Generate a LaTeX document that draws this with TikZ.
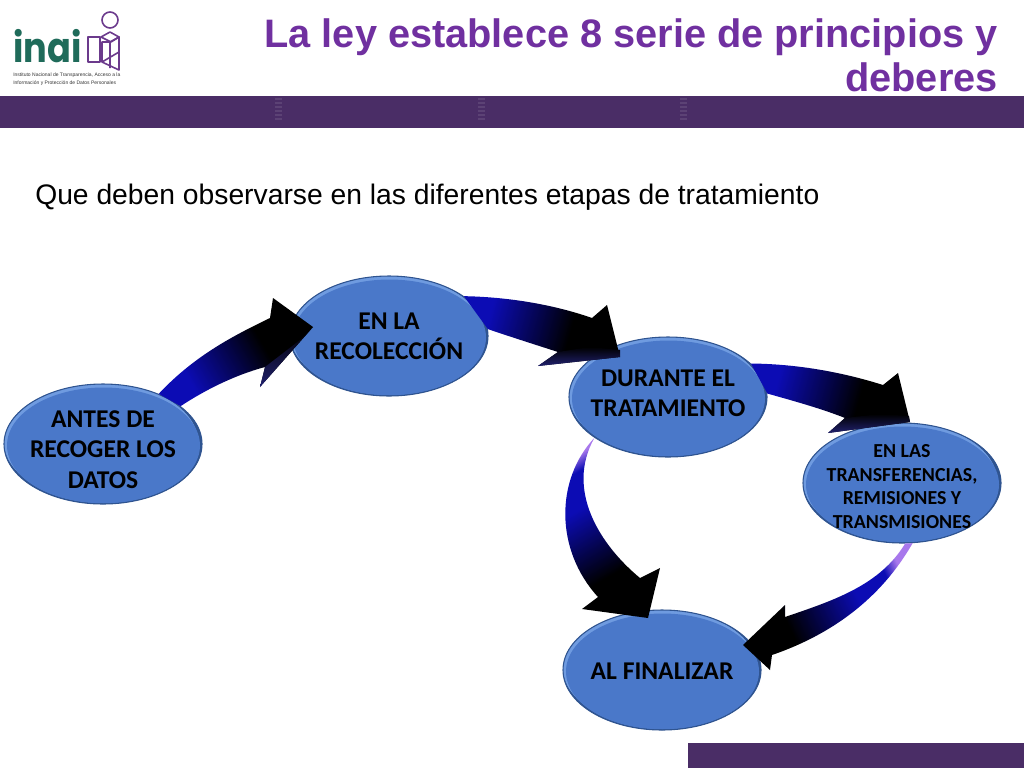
\documentclass[tikz,border=0pt]{standalone}
\usepackage{graphicx}
\usepackage{fontspec}
\setmainfont{Liberation Sans}
\newfontfamily\ovalfont{Carlito}
\newfontfamily\logofont{Poppins}
\usetikzlibrary{calc,positioning,shapes.geometric}
\definecolor{barpurple}{HTML}{4A2D66}
\definecolor{titlepurple}{HTML}{7030A0}
\definecolor{logogreen}{HTML}{1F6B5A}
\definecolor{logopurple}{HTML}{6B3A8C}
\definecolor{ovalfill}{HTML}{4A78C9}
\definecolor{ovallight}{HTML}{6F9BE0}
\definecolor{ovaldark}{HTML}{2F5490}
\definecolor{tailblue}{HTML}{0C0CB4}
\definecolor{midblue}{HTML}{04044A}
\definecolor{lipblue}{HTML}{20206E}
\definecolor{taillilac}{HTML}{A878EC}
\pgfdeclareverticalshading{arrowshade}{100bp}{color(0bp)=(tailblue); color(30bp)=(tailblue); color(48bp)=(midblue); color(60bp)=(black); color(100bp)=(black)}
\pgfdeclareverticalshading{lilacshade}{100bp}{color(0bp)=(taillilac); color(24bp)=(taillilac); color(29bp)=(tailblue); color(40bp)=(tailblue); color(54bp)=(midblue); color(64bp)=(black); color(100bp)=(black)}
% text of an oval, with no size of its own so that the oval keeps its size; #1 lifts it
\newcommand{\ovaltext}[2][0pt]{\smash{\makebox[0pt]{\raisebox{#1}{\begin{tabular}{@{}c@{}}#2\end{tabular}}}}}
\tikzset{
  % ovals, all of the same size
  oval/.style={ellipse,draw=ovaldark,line width=.8pt,fill=ovaldark,inner sep=0pt,
    minimum width=148.5pt,minimum height=90pt,text=black,
    font=\ovalfont\bfseries\fontsize{19.2}{23}\selectfont,
    path picture={
      \fill[ovallight] ([shift={(-2,-2)}]path picture bounding box.center) ellipse [x radius=97,y radius=59];
      \fill[ovalfill] ([shift={(.5,1.5)}]path picture bounding box.center) ellipse [x radius=96.5,y radius=58];
    }},
  smalloval/.style={oval,font=\ovalfont\bfseries\fontsize{14.9}{17.7}\selectfont},
  % big arrows: black at the head, #1 is the direction of the head
  bigarrow/.style={shading=arrowshade,shading angle=#1-90},
  lilacarrow/.style={shading=lilacshade,shading angle=#1-90},
  headlip/.style={top color=black,bottom color=lipblue},
  logoline/.style={draw=logopurple,line width=1.2pt,line join=round},
}
\begin{document}
\begin{tikzpicture}[x=.75pt,y=-.75pt]
  \useasboundingbox (0,0) rectangle (1024,768);
  % bars
  \fill[barpurple] (0,96) rectangle (1024,128);
  \fill[barpurple] (688,743) rectangle (1024,768);
  \foreach \xpos in {275,478,680}
    \foreach \ypos in {98,102,...,118}
      \fill[white,opacity=.1] (\xpos,\ypos) rectangle +(7,2);
  % logo
  \node[inner sep=0pt,text=logogreen,font=\logofont\bfseries\fontsize{31}{31}\selectfont,anchor=base west] (inai) at (13,62) {\scalebox{.85}[1]{inai}};
  \draw[logoline] (110,20) circle (8);
  \draw[logoline] (88,37) rectangle (100,62);
  \draw[logoline] (101,37) -- (110,32) -- (119,37) -- (111,42) -- cycle;
  \draw[logoline] (110,42) -- (119,37) -- (119,70) -- (102,62) -- (102,42) -- (110,42) -- (110,68);
  \draw[logoline] (102,62) -- (119,52);
  \node[inner sep=0pt,anchor=north west,align=left,font=\fontsize{3.75}{6}\selectfont,text=black!80] (logotext) at (13,73)
    {Instituto Nacional de Transparencia, Acceso a la\\Información y Protección de Datos Personales};
  % title
  \node[inner sep=0pt,anchor=north east,align=right,text=titlepurple,font=\bfseries\fontsize{29.8}{33}\selectfont] (title) at (998,18)
    {La ley establece 8 serie de principios y\\deberes};
  \node[inner sep=0pt,anchor=base west,font=\fontsize{21.2}{25}\selectfont] (subtitle) at (35,204.5)
    {Que deben observarse en las diferentes etapas de tratamiento};
  % ovals
  \node[oval] (antes) at (103,444) {\ovaltext[-11pt]{ANTES DE\\RECOGER LOS\\DATOS}};
  \node[oval] (recoleccion) at (389,336) {\ovaltext[-7pt]{EN LA\\RECOLECCIÓN}};
  \node[oval] (durante) at (668,397) {\ovaltext[-4pt]{DURANTE EL\\TRATAMIENTO}};
  \node[smalloval] (transf) at (902,483) {\ovaltext[-7.5pt]{EN LAS\\TRANSFERENCIAS,\\REMISIONES Y\\TRANSMISIONES}};
  \node[oval] (final) at (662,670) {\ovaltext[-7.5pt]{AL FINALIZAR}};
  % arrows
  \shade[bigarrow=30] (antes.42) .. controls (195,355) and (235,335) .. (270,318)
    -- (273,298) -- (313,327) -- (260,387) -- (265,367)
    .. controls (235,375) and (205,390) .. (antes.26) -- cycle;
  \shade[headlip] (260,387) -- (265,367) -- (300,340) -- (313,327) -- cycle;
  \shade[bigarrow=-15] (recoleccion.28) .. controls (510,297) and (555,305) .. (592,318)
    -- (607,305) -- (620,357) -- (538,366) -- (558,352)
    .. controls (530,343) and (505,335) .. (recoleccion.4) -- cycle;
  \shade[headlip] (538,366) -- (558,352) -- (590,347) -- (620,350) -- (620,357) -- cycle;
  \shade[bigarrow=-15] (durante.22) .. controls (800,364) and (845,373) .. (883,385)
    -- (898,373) -- (910,422) -- (828,433) -- (845,418)
    .. controls (820,408) and (790,400) .. (durante.2) -- cycle;
  \shade[headlip] (828,433) -- (845,418) -- (880,414) -- (909,416) -- (910,422) -- cycle;
  \shade[lilacarrow=-60] (durante.209) .. controls (555,480) and (555,550) .. (598,597)
    -- (582,609) -- (648,618) -- (660,568) -- (640,578)
    .. controls (600,545) and (565,490) .. (durante.209) -- cycle;
  \shade[lilacarrow=205] (transf.-87) .. controls (880,585) and (835,600) .. (785,617)
    -- (785,605) -- (743,645) -- (770,670) -- (772,655)
    .. controls (830,635) and (880,600) .. (transf.-80) -- cycle;
\end{tikzpicture}
\end{document}
